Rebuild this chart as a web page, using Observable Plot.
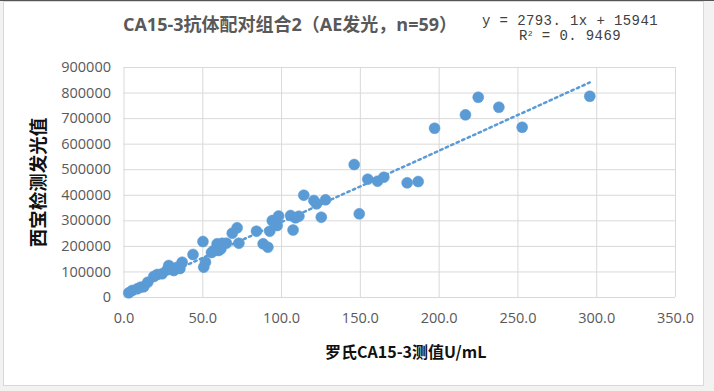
<!DOCTYPE html>
<html>
<head>
<meta charset="utf-8">
<script src="https://cdn.jsdelivr.net/npm/d3@7"></script>
<script src="https://cdn.jsdelivr.net/npm/@observablehq/plot@0.6"></script>
<style>
  html, body { margin: 0; padding: 0; width: 714px; height: 391px; overflow: hidden; background: #f2f2f2; }
  #topline { position: absolute; left: 0; top: 0; width: 714px; height: 1px; background: #555; }
  #card { position: absolute; left: 3px; top: 1px; width: 699px; height: 383px; background: #fff; border: 1px solid #d9d9d9; }
  #chart { position: absolute; left: 0; top: 0; }
  #title { position: absolute; left: 115px; width: 350px; top: 10px; text-align: center; line-height: 24px;
           font: bold 18px 'Open Sans','Noto Sans CJK SC',sans-serif; color: #595959; white-space: nowrap; }
  .eq { position: absolute; left: 480px; width: 180px; text-align: center; line-height: 13px; height: 13px;
        font: 14px 'Liberation Mono','DejaVu Sans Mono',monospace; color: #404040; letter-spacing: 0.4px; white-space: nowrap; }
  .eq sup { font-size: 8px; line-height: 0; vertical-align: 4px; }
</style>
</head>
<body>
<div id="topline"></div>
<div id="card"></div>
<div id="chart"></div>
<div id="title">CA15-3抗体配对组合2（AE发光，n=59）</div>
<div class="eq" id="eq1" style="top:13px"></div>
<div class="eq" id="eq2" style="top:28px"></div>
<script>
// Data
const rocheValues = [3.0, 5.2, 8.4, 10.5, 12.5, 15.1, 18.9, 21.1, 24.2, 27.4, 28.4, 30.0, 31.6, 33.8, 35.5, 36.9,
  43.8, 50.1, 50.6, 51.7, 55.5, 57.0, 59.1, 60.0, 61.5, 62.3, 65.0, 68.7, 71.8, 72.9,
  84.1, 88.3, 91.3, 92.5, 94.1, 97.2, 98.1, 105.7, 107.3, 108.8, 111.0, 114.1, 120.5, 122.2, 125.2, 127.9,
  146.1, 149.3, 154.7, 160.9, 164.9, 179.7, 186.7, 197.1, 216.7, 224.8, 237.9, 252.7, 295.6];
const xibaoValues = [18400, 27400, 34000, 40300, 42000, 59900, 82200, 90000, 92700, 108400, 125200, 112000, 105600, 118500, 113400, 138100,
  168200, 219000, 118500, 138100, 176000, 183900, 210100, 183900, 190000, 212400, 212400, 251500, 272700, 212400,
  259400, 210100, 196800, 259400, 301200, 281700, 318800, 320800, 264100, 311800, 318000, 400200, 379500, 366600, 314100, 382200,
  520300, 327400, 462800, 455000, 470600, 448700, 453800, 662300, 714700, 783600, 744500, 666200, 787500];
const xTicks = [0, 50, 100, 150, 200, 250, 300, 350];
const yTicks = [0, 100000, 200000, 300000, 400000, 500000, 600000, 700000, 800000, 900000];
const trendSlope = [2793.1];
const trendIntercept = [15941];
const rSquared = ["0.9469"];
const xTitle = ["罗氏CA15-3测值U/mL"];
const yTitle = ["西宝检测发光值"];

document.getElementById("eq1").textContent = `y = ${trendSlope[0].toFixed(1).replace(".", ". ")}x + ${trendIntercept[0]}`;
document.getElementById("eq2").innerHTML = `R<sup>2</sup> = ${rSquared[0].replace(".", ". ")}`;

const points = rocheValues.map((x, i) => ({x, y: xibaoValues[i]}));
const xExt = d3.extent(rocheValues);
const trend = xExt.map(x => ({x, y: trendSlope[0] * x + trendIntercept[0]}));

const blue = "#5b9bd5";
const chart = Plot.plot({
  width: 714,
  height: 391,
  marginLeft: 123.5,
  marginRight: 39,
  marginTop: 67,
  marginBottom: 94,
  style: {background: "transparent", fontFamily: "'Open Sans', sans-serif"},
  x: {domain: [0, 350]},
  y: {domain: [0, 900000]},
  marks: [
    Plot.gridX(xTicks, {stroke: "#d9d9d9", strokeOpacity: 1}),
    Plot.gridY(yTicks, {stroke: "#d9d9d9", strokeOpacity: 1}),
    Plot.axisX(xTicks, {tickSize: 0, tickPadding: 15, fontSize: 14.5, fill: "#595959", tickFormat: d => d.toFixed(1), label: null}),
    Plot.axisY(yTicks, {tickSize: 0, tickPadding: 13, fontSize: 14.5, fill: "#595959", tickFormat: d => String(d), label: null}),
    Plot.dot(points, {x: "x", y: "y", r: 5.5, fill: blue, stroke: blue, strokeWidth: 0.5}),
    Plot.line(trend, {x: "x", y: "y", stroke: blue, strokeWidth: 2.5, strokeDasharray: "2.5,3.5"}),
    Plot.text(yTitle, {frameAnchor: "left", dx: -84.5, rotate: -90, textAnchor: "middle", lineAnchor: "middle",
      fontSize: 18.5, fontWeight: "bold", fill: "#111", fontFamily: "'Noto Sans CJK SC', sans-serif"}),
    Plot.text(xTitle, {frameAnchor: "bottom", dy: 55, dx: 6, textAnchor: "middle", lineAnchor: "middle",
      fontSize: 16, fontWeight: "bold", fill: "#111", fontFamily: "'Noto Sans CJK SC', sans-serif"})
  ]
});
document.getElementById("chart").appendChild(chart);
</script>
</body>
</html>
